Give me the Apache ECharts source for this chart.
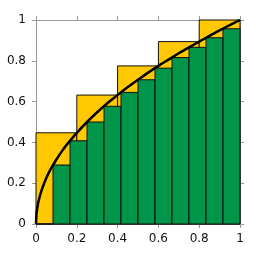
<!DOCTYPE html>
<html><head><meta charset="utf-8">
<script src="https://cdn.jsdelivr.net/npm/echarts@6/dist/echarts.min.js"></script>
<style>html,body{margin:0;padding:0;background:#fff}#c{width:256px;height:256px}</style>
</head><body><div id="c"></div>
<script>
// Upper sum rectangles (5 intervals): [x0, x1, height]
const upperStarts = [0, 0.2, 0.4, 0.6, 0.8];
const upperWidth = 0.2;
const upperHeights = [0.447, 0.632, 0.775, 0.894, 1.0];
// Lower sum rectangles (12 intervals)
const lowerStarts = [0, 0.0833, 0.1667, 0.25, 0.3333, 0.4167, 0.5, 0.5833, 0.6667, 0.75, 0.8333, 0.9167];
const lowerWidth = 0.0833;
const lowerHeights = [0, 0.289, 0.408, 0.5, 0.577, 0.645, 0.707, 0.764, 0.816, 0.866, 0.913, 0.957];
// Curve points
const curveX = [0, 0.002, 0.005, 0.01, 0.02, 0.03, 0.05, 0.07, 0.1, 0.13, 0.16, 0.2, 0.25, 0.3, 0.35, 0.4, 0.45, 0.5, 0.55, 0.6, 0.65, 0.7, 0.75, 0.8, 0.85, 0.9, 0.95, 1];
const curveY = [0, 0.045, 0.07, 0.1, 0.141, 0.173, 0.224, 0.265, 0.316, 0.361, 0.4, 0.447, 0.5, 0.548, 0.592, 0.632, 0.671, 0.707, 0.742, 0.775, 0.806, 0.837, 0.866, 0.894, 0.922, 0.949, 0.975, 1];
const tickVals = [0, 0.2, 0.4, 0.6, 0.8, 1];

const upperData = upperStarts.map((s, i) => [s, s + upperWidth, upperHeights[i]]);
const lowerData = lowerStarts.map((s, i) => [s, s + lowerWidth, lowerHeights[i]]);
const curveData = curveX.map((x, i) => [x, curveY[i]]);

function rectRender(fill) {
  return function (params, api) {
    const p0 = api.coord([api.value(0), 0]);
    const p1 = api.coord([api.value(1), api.value(2)]);
    return {
      type: 'rect',
      shape: { x: p0[0], y: p1[1], width: p1[0] - p0[0], height: p0[1] - p1[1] },
      style: { fill: fill, stroke: '#111', lineWidth: 1 }
    };
  };
}

const fmt = v => (v === 0 ? '0' : v === 1 ? '1' : String(+v.toFixed(1)));
const axisCommon = {
  type: 'value', min: 0, max: 1, interval: 0.2,
  axisLine: { show: true, onZero: false, lineStyle: { color: '#999', width: 1 } },
  axisTick: { show: true, inside: false, length: 4, lineStyle: { color: '#999' } },
  splitLine: { show: false }
};
const labelStyle = { color: '#111', fontSize: 12, fontFamily: 'DejaVu Sans', formatter: fmt };

const chart = echarts.init(document.getElementById('c'), null, { renderer: 'canvas' });
chart.setOption({
  animation: false,
  grid: { left: 36, right: 16, top: 20, bottom: 32 },
  xAxis: [
    Object.assign({}, axisCommon, { position: 'bottom', axisLabel: Object.assign({ margin: 9 }, labelStyle) }),
    Object.assign({}, axisCommon, { position: 'top', axisLabel: { show: false } })
  ],
  yAxis: [
    Object.assign({}, axisCommon, { position: 'left', axisLabel: Object.assign({ margin: 10 }, labelStyle) }),
    Object.assign({}, axisCommon, { position: 'right', axisLabel: { show: false } })
  ],
  series: [
    { type: 'custom', renderItem: rectRender('#ffc800'), data: upperData, encode: { x: [0, 1], y: 2 }, z: 2 },
    { type: 'custom', renderItem: rectRender('#009548'), data: lowerData, encode: { x: [0, 1], y: 2 }, z: 3 },
    { type: 'line', data: curveData, showSymbol: false, smooth: 0.3, lineStyle: { color: '#000', width: 2.5 }, z: 4, clip: true }
  ]
});
</script></body></html>
